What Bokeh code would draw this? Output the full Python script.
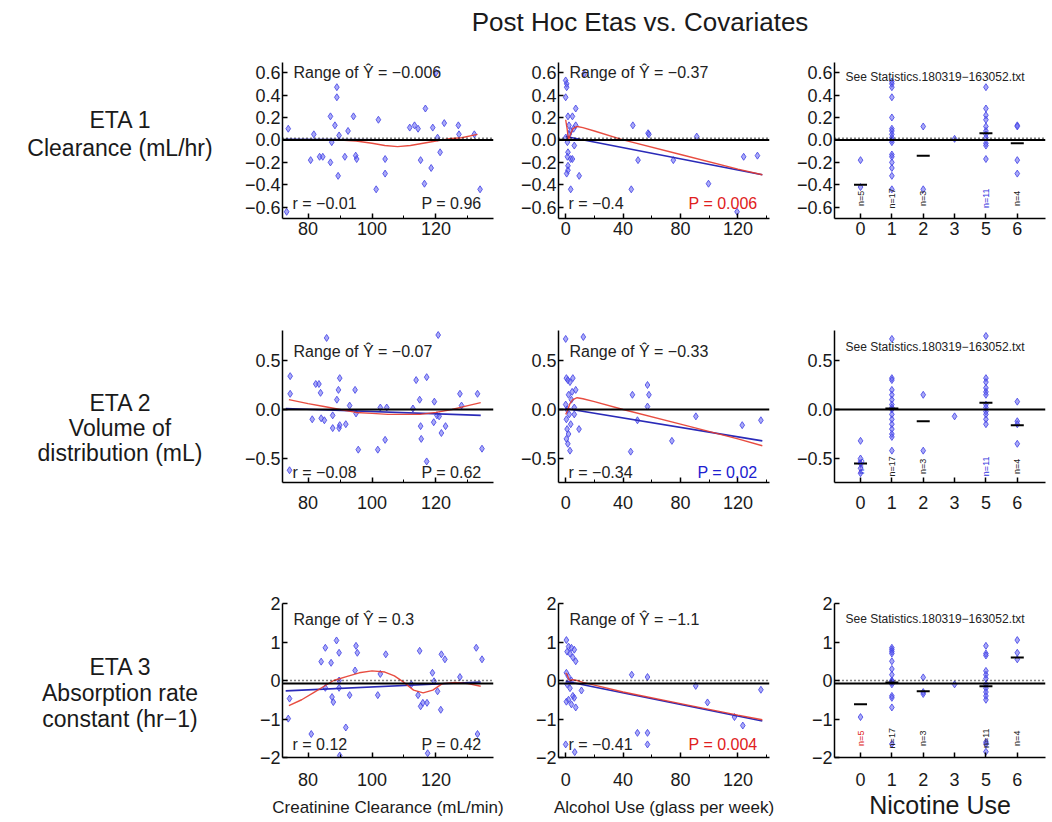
import math
from bokeh.plotting import figure
from bokeh.models import Label, FixedTicker, Div, Span
from bokeh.layouts import row, column
from bokeh.embed import file_html
from bokeh.resources import INLINE
from bokeh.core.properties import value

FONT = "Liberation Sans"

# ---------------- data ----------------
title_text = "Post Hoc Etas vs. Covariates"
row_labels = [["ETA 1", "Clearance (mL/hr)"],
              ["ETA 2", "Volume of", "distribution (mL)"],
              ["ETA 3", "Absorption rate", "constant (hr\u22121)"]]
x_titles = ["Creatinine Clearance (mL/min)", "Alcohol Use (glass per week)", "Nicotine Use"]

# Creatinine clearance panels
crcl_x_eta1 = [73.3, 73.8, 80.8, 81.8, 83.6, 84.6, 87.0, 87.0, 87.4, 88.4, 89.0, 89.0, 89.4, 89.7, 91.5, 92.5, 94.2, 94.9, 95.2, 101.3,
               102.0, 104.1, 104.1, 111.8, 113.3, 114.4, 115.2, 116.4, 116.7, 118.5, 119.0, 120.0, 120.5, 121.3, 122.6, 127.0, 127.2, 132.0, 133.8]
crcl_y_eta1 = [-0.64, 0.10, -0.18, 0.05, -0.15, -0.15, 0.21, -0.20, -0.02, 0.13, 0.38, 0.47, -0.32, 0.04, -0.15, 0.08, 0.21, -0.14, -0.17, -0.44,
               0.18, -0.17, -0.30, 0.11, 0.13, 0.10, -0.18, -0.39, 0.28, -0.25, 0.11, 0.60, 0.02, -0.11, 0.15, 0.13, 0.05, 0.05, -0.44]
crcl_x_eta2 = [74.4, 74.4, 74.2, 81.3, 82.4, 83.4, 83.9, 84.1, 85.1, 85.8, 87.7, 87.7, 89.0, 89.5, 89.9, 89.7, 89.9, 91.8, 93.0, 94.7,
               95.0, 95.7, 101.8, 102.6, 104.1, 104.6, 112.8, 113.8, 114.9, 115.2, 115.4, 117.1, 117.1, 119.5, 119.3, 120.3, 120.7, 121.0, 121.7, 123.0,
               127.5, 128.0, 133.0, 134.4]
crcl_y_eta2 = [0.34, 0.16, -0.62, -0.10, 0.26, 0.26, 0.17, -0.09, -0.11, 0.73, -0.06, -0.19, 0.10, 0.20, 0.32, -0.19, -0.16, -0.15, 0.04, 0.20,
               -0.04, -0.41, -0.41, 0.02, -0.31, 0.02, 0.01, 0.30, 0.10, -0.17, -0.30, 0.33, -0.53, 0.08, -0.13, -0.06, 0.76, -0.07, -0.24, -0.17,
               0.16, 0.04, 0.16, -0.40]
crcl_x_eta3 = [73.8, 74.2, 81.0, 84.1, 85.4, 85.4, 87.2, 87.5, 87.9, 88.9, 89.7, 89.7, 89.7, 89.9, 91.8, 93.0, 94.7, 95.0, 95.4, 101.8,
               102.6, 104.3, 112.3, 114.4, 114.9, 115.2, 115.9, 117.2, 117.4, 118.9, 119.4, 120.5, 121.5, 121.7, 122.8, 127.5, 132.6, 133.0, 134.4]
crcl_y_eta3 = [-0.99, -0.47, -1.39, 0.49, 0.85, -0.19, 0.46, -0.43, -0.56, 1.04, 0.72, 0.0, -0.19, -1.95, -1.22, -0.38, 0.26, 0.90, 0.72, -0.38,
               0.17, 0.68, -0.10, -0.38, 0.77, -0.67, -0.58, -0.58, -1.89, 0.20, -0.02, -0.28, -0.76, 0.68, 0.55, 0.09, 0.85, -1.39, 0.55]

crcl_fit_x = [73.0, 134.0]
crcl_fit_eta1 = [0.005, -0.003]
crcl_fit_eta2 = [0.01, -0.06]
crcl_fit_eta3 = [-0.27, -0.04]
crcl_smooth_x_eta1 = [74, 80, 85, 90, 95, 100, 104, 108, 112, 116, 120, 124, 128, 133]
crcl_smooth_eta1 = [0.0, 0.0, 0.0, 0.0, -0.01, -0.03, -0.05, -0.06, -0.05, -0.03, -0.01, 0.01, 0.02, 0.05]
crcl_smooth_x_eta2 = [74, 80, 85, 90, 95, 100, 105, 110, 115, 120, 125, 130, 134]
crcl_smooth_eta2 = [0.10, 0.06, 0.03, 0.0, -0.03, -0.04, -0.05, -0.05, -0.05, -0.03, 0.0, 0.04, 0.07]
crcl_smooth_x_eta3 = [74, 78, 82, 85, 88, 92, 96, 100, 104, 107, 110, 113, 116, 119, 122, 126, 130, 134]
crcl_smooth_eta3 = [-0.65, -0.5, -0.3, -0.15, 0.0, 0.1, 0.2, 0.25, 0.22, 0.12, -0.05, -0.25, -0.32, -0.25, -0.08, -0.05, -0.08, -0.15]

# Alcohol use panels
alc_x_eta1 = [0, 0.7, 0.7, 0, 7, 1.6, 4.7, 2.3, 7, 3.5, 0, 1.2, 1.6, 1.2, 3.5, 4.7, 1.6, 1.6, 0.7, 9.4,
              3.5, 12.9, 46.8, 45.7, 50.4, 57.4, 58.0, 75.0, 91.3, 99.5, 119.4, 124.0, 133.6, 5.5, 2.5, 6.0]
alc_y_eta1 = [0.53, 0.50, 0.47, 0.38, 0.28, 0.21, 0.21, 0.13, 0.13, 0.08, 0.02, -0.02, -0.11, -0.15, -0.17, -0.17, -0.23, -0.27, -0.30, -0.32,
              -0.44, 0.59, 0.13, -0.44, -0.18, 0.06, 0.05, -0.18, 0.03, -0.39, -0.64, -0.15, -0.14, 0.10, 0.05, -0.05]
alc_x_eta2 = [0, 12.3, 0.5, 1.5, 3, 5, 7, 2, 4, 0, 1, 6, 2.5, 0.5, 3.5, 1, 2, 0.5, 1.5, 3,
              9.3, 46.5, 45.3, 50, 57, 58, 57, 74, 90.7, 123, 136, 6, 4.5]
alc_y_eta2 = [0.72, 0.74, 0.32, 0.30, 0.28, 0.32, 0.20, 0.15, 0.10, 0.05, 0.0, 0.02, -0.05, -0.10, -0.15, -0.20, -0.25, -0.30, -0.35, -0.42,
              -0.20, 0.15, -0.43, -0.11, 0.25, 0.15, 0.03, -0.32, -0.07, -0.16, -0.11, -0.05, 0.18]
alc_x_eta3 = [0.5, 2, 4, 6, 1, 3, 5, 7, 0.5, 2, 4, 1, 3, 5, 6, 2, 0.5, 4, 7, 0,
              6.3, 11, 46, 50, 57, 57, 57, 90.6, 98.8, 117.6, 123.4, 136]
alc_y_eta3 = [1.05, 0.88, 0.85, 0.80, 0.75, 0.70, 0.60, 0.50, 0.20, 0.10, 0.0, -0.10, -0.20, -0.40, -0.45, -0.50, -0.55, -0.62, -0.70, -1.66,
              -1.86, -0.26, 0.15, -1.36, -1.36, -1.66, 0.09, -0.14, -0.57, -0.95, -1.17, -0.24]

alc_fit_x = [0.0, 137.0]
alc_fit_eta1 = [0.03, -0.31]
alc_fit_eta2 = [0.01, -0.32]
alc_fit_eta3 = [-0.02, -1.05]
alc_smooth_x = [0, 1, 2, 3, 5, 8, 12, 20, 40, 80, 120, 137]
alc_smooth_eta1 = [0.18, 0.10, 0.0, 0.04, 0.10, 0.12, 0.11, 0.08, 0.0, -0.13, -0.26, -0.31]
alc_smooth_eta2 = [-0.05, -0.02, 0.02, 0.06, 0.10, 0.12, 0.11, 0.08, 0.0, -0.15, -0.30, -0.37]
alc_smooth_eta3 = [0.20, 0.15, 0.05, 0.0, 0.02, 0.0, -0.05, -0.12, -0.30, -0.60, -0.90, -1.02]

# Nicotine use panels (category index into nic_categories)
nic_categories = ["0", "1", "2", "3", "5", "6"]
nic_cat_eta1 = [0, 0] + [1] * 17 + [2, 2] + [3] + [4] * 11 + [5] * 4
nic_y_eta1 = [-0.18, -0.42,
              0.52, 0.50, 0.47, 0.38, 0.20, 0.10, 0.08, 0.05, 0.02, 0.0, -0.02, -0.13, -0.15, -0.20, -0.25, -0.32, -0.44,
              0.12, -0.44, 0.01,
              0.47, 0.28, 0.22, 0.18, 0.12, 0.08, 0.05, 0.02, -0.03, -0.05, -0.17,
              0.13, 0.12, -0.18, -0.30]
nic_cat_eta2 = [0] * 5 + [1] * 16 + [2, 2] + [3] + [4] * 12 + [5] * 4
nic_y_eta2 = [-0.32, -0.50, -0.55, -0.60, -0.65,
              0.72, 0.32, 0.30, 0.20, 0.15, 0.10, 0.05, 0.02, 0.0, -0.05, -0.10, -0.15, -0.20, -0.25, -0.28, -0.42,
              0.15, -0.42, -0.07,
              0.75, 0.32, 0.28, 0.22, 0.18, 0.15, 0.05, 0.02, -0.02, -0.05, -0.10, -0.15,
              0.08, -0.12, -0.15, -0.35]
nic_cat_eta3 = [0] + [1] * 15 + [2] * 3 + [3] + [4] * 14 + [5] * 3
nic_y_eta3 = [-0.95,
              0.85, 0.80, 0.75, 0.70, 0.50, 0.30, 0.15, 0.0, -0.02, -0.05, -0.10, -0.40, -0.45, -0.70, -1.65,
              0.08, -0.30, -0.35, -0.10,
              0.90, 0.70, 0.65, 0.25, 0.15, 0.05, -0.10, -0.20, -0.30, -0.40, -0.50, -1.60, -1.65, -1.85,
              1.05, 0.72, 0.55]
nic_mean_eta1 = [-0.40, 0.0, -0.14, float("nan"), 0.06, -0.03]
nic_mean_eta2 = [-0.55, 0.01, -0.12, float("nan"), 0.07, -0.16]
nic_mean_eta3 = [-0.62, -0.05, -0.28, float("nan"), -0.15, 0.60]
nic_count_text = ["n=5", "n=17", "n=3", "", "n=11", "n=4"]
nic_count_y = [-0.52, -0.58, -1.5]
nic_count_colors = [["#222222", "#222222", "#222222", "#222222", "#3333dd", "#222222"],
                    ["#3333dd", "#222222", "#222222", "#222222", "#3333dd", "#222222"],
                    ["#dd2222", "#222222", "#222222", "#222222", "#222222", "#222222"]]

range_texts = [["Range of \u0176 = \u22120.006", "Range of \u0176 = \u22120.37"],
               ["Range of \u0176 = \u22120.07", "Range of \u0176 = \u22120.33"],
               ["Range of \u0176 = 0.3", "Range of \u0176 = \u22121.1"]]
r_texts = [["r = \u22120.01", "r = \u22120.4"],
           ["r = \u22120.08", "r = \u22120.34"],
           ["r = 0.12", "r = \u22120.41"]]
p_texts = [["P = 0.96", "P = 0.006"],
           ["P = 0.62", "P = 0.02"],
           ["P = 0.42", "P = 0.004"]]
p_colors = [["#222222", "#e02020"], ["#222222", "#2020d0"], ["#222222", "#e02020"]]
stats_text = "See Statistics.180319\u2212163052.txt"

solid_zero = [0.0, 0.0, -0.08]
dotted_zero = [0.015, None, 0.0]

# ---------------- layout constants ----------------
col_xr = [(72.0, 138.0), (-5.0, 142.0), (-0.83, 5.9)]
row_yr = [(-0.70, 0.69), (-0.745, 0.806), (-2.0, 2.0)]
y_ticks = [[-0.6, -0.4, -0.2, 0.0, 0.2, 0.4, 0.6], [-0.5, 0.0, 0.5], [-2, -1, 0, 1, 2]]
y_tick_labels = [["\u22120.6", "\u22120.4", "\u22120.2", "0.0", "0.2", "0.4", "0.6"],
                 ["\u22120.5", "0.0", "0.5"],
                 ["\u22122", "\u22121", "0", "1", "2"]]
x_major = [[80, 100, 120], [0, 40, 80, 120], [0, 1, 2, 3, 4, 5]]
x_minor = [[90, 110, 130], [20, 60, 100, 140], []]

FRAME_W = 211
LEFT_B = 42
tops = [22, 30, 33]
frame_h = [156, 152, 154]
bottoms = [82, 88, 65]
x_standoff = [3, 13, 15]
range_off = [10, 21, 16]
bottom_off = [15, 10, 13]
stats_off = [14, 16, 15]

PT_FILL = "#6262f0"
PT_LINE = "#4646e6"
BLUE_LINE = "#2a2ab8"
RED_LINE = "#e53a2c"

scatter_data = [[(crcl_x_eta1, crcl_y_eta1), (alc_x_eta1, alc_y_eta1), (nic_cat_eta1, nic_y_eta1)],
                [(crcl_x_eta2, crcl_y_eta2), (alc_x_eta2, alc_y_eta2), (nic_cat_eta2, nic_y_eta2)],
                [(crcl_x_eta3, crcl_y_eta3), (alc_x_eta3, alc_y_eta3), (nic_cat_eta3, nic_y_eta3)]]
fit_data = [[(crcl_fit_x, crcl_fit_eta1), (alc_fit_x, alc_fit_eta1)],
            [(crcl_fit_x, crcl_fit_eta2), (alc_fit_x, alc_fit_eta2)],
            [(crcl_fit_x, crcl_fit_eta3), (alc_fit_x, alc_fit_eta3)]]
smooth_data = [[(crcl_smooth_x_eta1, crcl_smooth_eta1), (alc_smooth_x, alc_smooth_eta1)],
               [(crcl_smooth_x_eta2, crcl_smooth_eta2), (alc_smooth_x, alc_smooth_eta2)],
               [(crcl_smooth_x_eta3, crcl_smooth_eta3), (alc_smooth_x, alc_smooth_eta3)]]
nic_means = [nic_mean_eta1, nic_mean_eta2, nic_mean_eta3]


def style_axis(ax):
    ax.axis_line_color = "black"
    ax.axis_line_width = 1.5
    ax.major_tick_in = 5
    ax.major_tick_out = 0
    ax.minor_tick_in = 3
    ax.minor_tick_out = 0
    ax.major_tick_line_color = "black"
    ax.major_tick_line_width = 1.5
    ax.minor_tick_line_color = "black"
    ax.major_label_text_font = FONT
    ax.major_label_text_font_size = "18px"
    ax.major_label_text_color = "#1a1a1a"


def make_panel(ri, ci):
    right_b = 23 if ci < 2 else 7
    x0, x1 = col_xr[ci]
    y0, y1 = row_yr[ri]
    p = figure(width=LEFT_B + FRAME_W + right_b, height=tops[ri] + frame_h[ri] + bottoms[ri],
               x_range=col_xr[ci], y_range=row_yr[ri], output_backend="svg", toolbar_location=None,
               min_border_left=LEFT_B, min_border_right=right_b,
               min_border_top=tops[ri], min_border_bottom=bottoms[ri])
    p.outline_line_color = None
    p.grid.visible = False
    style_axis(p.xaxis[0])
    style_axis(p.yaxis[0])
    p.yaxis[0].ticker = FixedTicker(ticks=y_ticks[ri])
    p.yaxis[0].major_label_overrides = {t: s for t, s in zip(y_ticks[ri], y_tick_labels[ri])}
    p.yaxis[0].major_label_standoff = 2
    p.xaxis[0].ticker = FixedTicker(ticks=x_major[ci], minor_ticks=x_minor[ci])
    p.xaxis[0].major_label_standoff = x_standoff[ri]
    if ci == 2:
        p.xaxis[0].major_label_overrides = {i: c for i, c in enumerate(nic_categories)}

    xpx = (x1 - x0) / FRAME_W
    ypx = (y1 - y0) / frame_h[ri]

    # reference lines
    p.add_layout(Span(location=solid_zero[ri], dimension="width", line_color="black", line_width=2))
    if dotted_zero[ri] is not None:
        p.add_layout(Span(location=dotted_zero[ri], dimension="width", line_color="black",
                          line_width=1.5, line_dash="1 3"))

    xs, ys = scatter_data[ri][ci]
    p.scatter(xs, ys, marker="diamond", size=7, fill_color=PT_FILL, fill_alpha=0.55,
              line_color=PT_LINE, line_alpha=0.85, line_width=1)

    if ci < 2:
        fx, fy = fit_data[ri][ci]
        p.line(fx, fy, line_color=BLUE_LINE, line_width=1.6)
        sx, sy = smooth_data[ri][ci]
        p.line(sx, sy, line_color=RED_LINE, line_width=1.4, line_alpha=0.9)
        p.add_layout(Label(x=x0 + 11 * xpx, y=y1 - range_off[ri] * ypx, text=range_texts[ri][ci],
                           text_font=FONT, text_font_size="16px", text_baseline="middle",
                           text_align="left", text_color="#222222"))
        p.add_layout(Label(x=x0 + 10 * xpx, y=y0 + bottom_off[ri] * ypx, text=r_texts[ri][ci],
                           text_font=FONT, text_font_size="16px", text_baseline="middle",
                           text_align="left", text_color="#222222"))
        p.add_layout(Label(x=x1 - 12 * xpx, y=y0 + bottom_off[ri] * ypx, text=p_texts[ri][ci],
                           text_font=FONT, text_font_size="16px", text_baseline="middle",
                           text_align="right", text_color=p_colors[ri][ci]))
    else:
        pos = list(range(len(nic_categories)))
        p.scatter(pos, nic_means[ri], marker="dash", size=13, line_color="black", line_width=2)
        p.text(x=pos, y=[nic_count_y[ri]] * len(pos), text=nic_count_text, angle=math.pi / 2,
               text_align="center", text_baseline="middle", text_font=value(FONT),
               text_font_size="9px", text_color=nic_count_colors[ri])
        p.add_layout(Label(x=x0 + 11 * xpx, y=y1 - stats_off[ri] * ypx, text=stats_text,
                           text_font=FONT, text_font_size="12px", text_baseline="middle",
                           text_align="left", text_color="#222222"))

    if ri == 2:
        p.xaxis[0].axis_label = x_titles[ci]
        p.xaxis[0].axis_label_text_font = FONT
        p.xaxis[0].axis_label_text_font_style = "normal"
        p.xaxis[0].axis_label_text_color = "#1a1a1a"
        if ci < 2:
            p.xaxis[0].axis_label_text_font_size = "17px"
            p.xaxis[0].axis_label_standoff = 9
        else:
            p.xaxis[0].axis_label_text_font_size = "25px"
            p.xaxis[0].axis_label_standoff = 2
    return p


label_center = [80, 103, 97]
label_lh = [28, 25, 26]

rows = []
for ri in range(3):
    h = tops[ri] + frame_h[ri] + bottoms[ri]
    html = ("<div style=\"width:240px;text-align:center;font-family:'Liberation Sans';font-size:23px;"
            f"line-height:{label_lh[ri]}px;padding-top:{label_center[ri] - label_lh[ri] // 2}px;color:#1a1a1a\">"
            + "<br>".join(row_labels[ri]) + "</div>")
    lab = Div(text=html, width=240, height=h, margin=(0, 0, 0, 0))
    panels = [make_panel(ri, ci) for ci in range(3)]
    rows.append(row([lab] + panels, spacing=0))

title_div = Div(text=("<div style=\"width:1052px;height:40px;position:relative\">"
                      "<div style=\"position:absolute;left:0;width:1280px;top:4px;text-align:center;"
                      "font-family:'Liberation Sans';font-size:26px;color:#1a1a1a\">" + title_text + "</div></div>"),
                width=1052, height=40, margin=(0, 0, 0, 0))

layout = column([title_div] + rows, spacing=0)
open("out.html", "w").write(file_html(layout, INLINE))
